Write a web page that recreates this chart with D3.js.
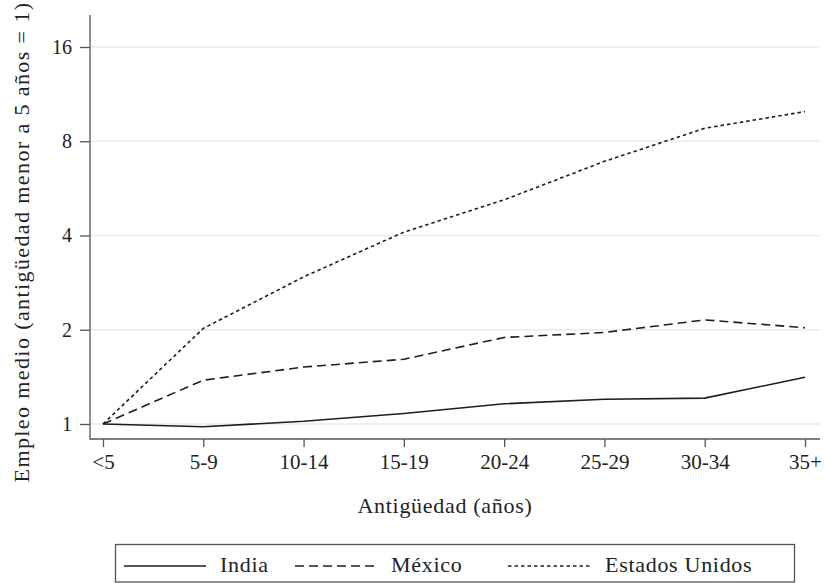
<!DOCTYPE html>
<html>
<head>
<meta charset="utf-8">
<script src="https://d3js.org/d3.v7.min.js"></script>
<style>
    body { margin: 0; background: #fff; }
    #chart text { font-family: "Liberation Serif", serif; fill: #222; }
</style>
</head>
<body>
<div id="chart"></div>
<script>
var categories = ["<5", "5-9", "10-14", "15-19", "20-24", "25-29", "30-34", "35+"];
var india = [1, 0.98, 1.02, 1.08, 1.16, 1.20, 1.21, 1.41];
var mexico = [1, 1.38, 1.52, 1.61, 1.89, 1.96, 2.15, 2.03];
var estadosUnidos = [1, 2.02, 2.95, 4.1, 5.2, 6.9, 8.8, 9.95];
var yTicks = [1, 2, 4, 8, 16];

var series = [
    { name: "India", values: india, dash: null },
    { name: "México", values: mexico, dash: "9,5" },
    { name: "Estados Unidos", values: estadosUnidos, dash: "3.5,3" }
];

var width = 824, height = 583;

//Scales
var xScale = d3.scalePoint()
    .domain(categories)
    .range([103, 805]);

var yScale = d3.scaleLog()
    .base(2)
    .domain([1, 16])
    .range([424, 47]);

var svg = d3.select("#chart")
    .append("svg")
    .attr("width", width)
    .attr("height", height);

//Grid lines
svg.append("g")
    .selectAll("line")
    .data(yTicks)
    .enter().append("line")
    .attr("x1", 90).attr("x2", 820)
    .attr("y1", function (d) { return yScale(d); })
    .attr("y2", function (d) { return yScale(d); })
    .style("stroke", "#eaeaea")
    .style("stroke-width", 1.5);

//Y axis
var yAxis = d3.axisLeft(yScale)
    .tickValues(yTicks)
    .tickFormat(d3.format("d"))
    .tickSize(10)
    .tickPadding(8);
var yNode = svg.append("g")
    .attr("transform", "translate(90,0)")
    .call(yAxis);
yNode.select(".domain").remove();
yNode.append("line")
    .attr("x1", 0).attr("x2", 0)
    .attr("y1", 15).attr("y2", 439.5)
    .style("stroke", "#555")
    .style("stroke-width", 1.3);
yNode.selectAll(".tick line").style("stroke", "#555").style("stroke-width", 1.3);
yNode.selectAll(".tick text").style("font-size", "20px").attr("fill", "#222");

//X axis
var xAxis = d3.axisBottom(xScale)
    .tickSize(8)
    .tickPadding(7);
var xNode = svg.append("g")
    .attr("transform", "translate(0,439)")
    .call(xAxis);
xNode.select(".domain").remove();
xNode.append("line")
    .attr("x1", 90).attr("x2", 820)
    .style("stroke", "#555")
    .style("stroke-width", 1.3);
xNode.selectAll(".tick line").style("stroke", "#555").style("stroke-width", 1.3);
xNode.selectAll(".tick text").style("font-size", "21px").attr("fill", "#222");

//Axis titles
svg.append("text")
    .attr("x", 445).attr("y", 513)
    .attr("text-anchor", "middle")
    .style("font-size", "22px")
    .style("letter-spacing", "0.7px")
    .text("Antigüedad (años)");

svg.append("text")
    .attr("transform", "translate(29,242) rotate(-90)")
    .attr("text-anchor", "middle")
    .style("font-size", "22px")
    .style("letter-spacing", "1.4px")
    .text("Empleo medio (antigüedad menor a 5 años = 1)");

//Lines
var line = d3.line()
    .x(function (d, i) { return xScale(categories[i]); })
    .y(function (d) { return yScale(d); });

svg.selectAll(".serie")
    .data(series)
    .enter().append("path")
    .attr("class", "serie")
    .attr("d", function (d) { return line(d.values); })
    .style("fill", "none")
    .style("stroke", "#1e1e1e")
    .style("stroke-width", 1.6)
    .style("stroke-dasharray", function (d) { return d.dash; });

//Legend
var legend = svg.append("g");
legend.append("rect")
    .attr("x", 115.5).attr("y", 544.5)
    .attr("width", 679).attr("height", 37.5)
    .style("fill", "none")
    .style("stroke", "#555")
    .style("stroke-width", 1.3);

var legendPos = [
    { x1: 124, x2: 206, tx: 220 },
    { x1: 295, x2: 377, tx: 391 },
    { x1: 508, x2: 590, tx: 605 }
];
var items = legend.selectAll(".item")
    .data(series)
    .enter().append("g")
    .attr("class", "item");
items.append("line")
    .attr("x1", function (d, i) { return legendPos[i].x1; })
    .attr("x2", function (d, i) { return legendPos[i].x2; })
    .attr("y1", 566).attr("y2", 566)
    .style("stroke", "#1e1e1e")
    .style("stroke-width", 1.6)
    .style("stroke-dasharray", function (d) { return d.dash; });
items.append("text")
    .attr("x", function (d, i) { return legendPos[i].tx; })
    .attr("y", 572)
    .style("font-size", "22px")
    .style("letter-spacing", "0.7px")
    .text(function (d) { return d.name; });
</script>
</body>
</html>
